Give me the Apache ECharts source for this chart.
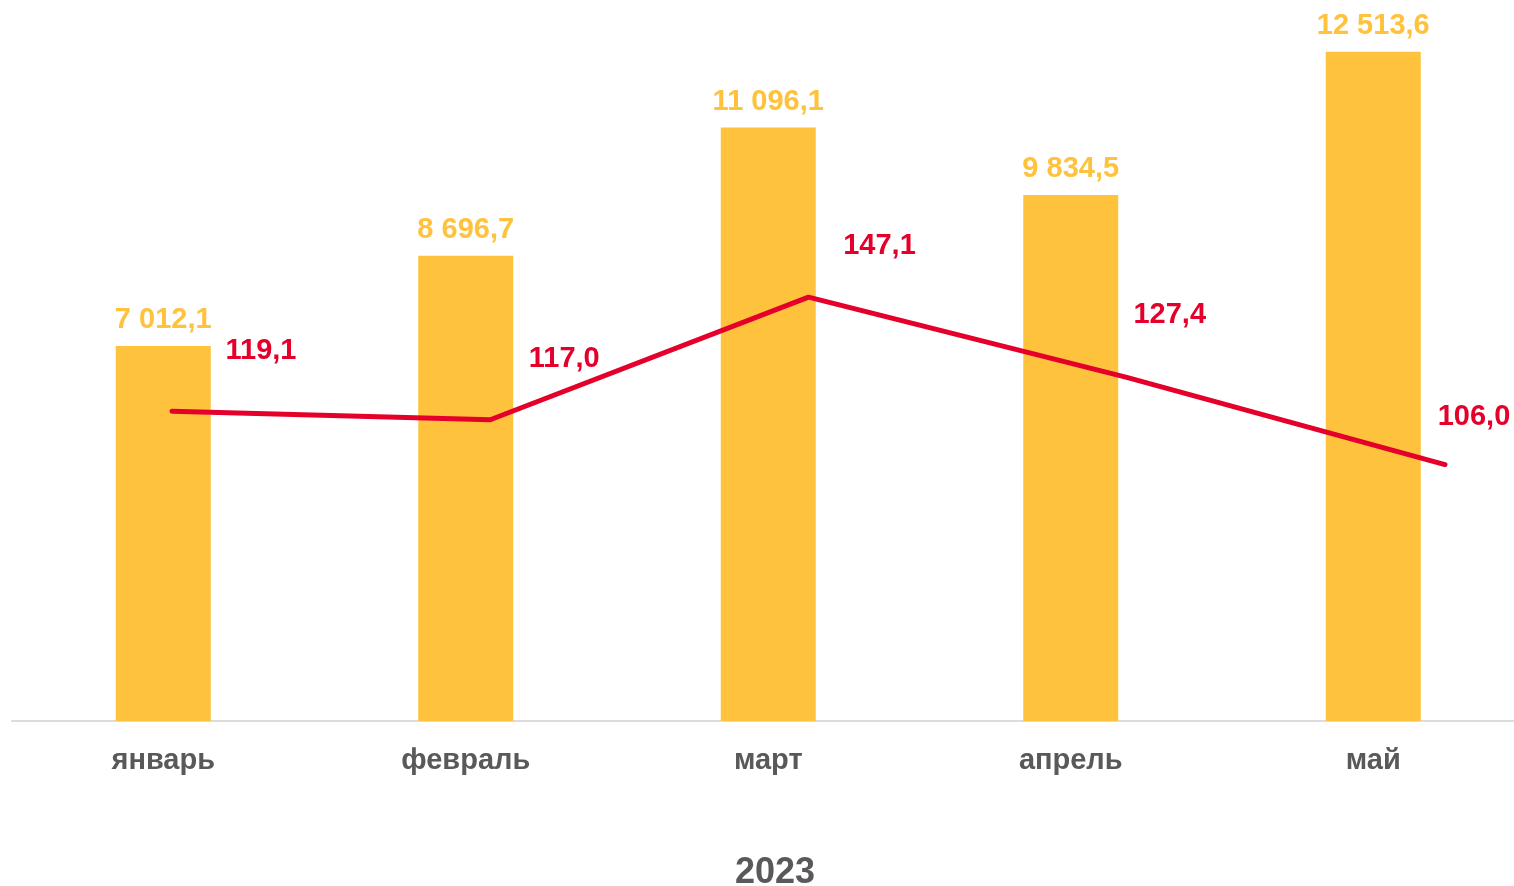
<!DOCTYPE html>
<html>
<head>
<meta charset="utf-8">
<script src="https://cdn.jsdelivr.net/npm/echarts@6/dist/echarts.min.js"></script>
<style>
  html, body { margin: 0; padding: 0; background: #fff; }
  #chart { width: 1514px; height: 886px; }
</style>
</head>
<body>
<div id="chart"></div>
<script>
// данные
const months = ["январь", "февраль", "март", "апрель", "май"];
const volume = [7012.1, 8696.7, 11096.1, 9834.5, 12513.6];
const index = [119.1, 117.0, 147.1, 127.4, 106.0];
const yearLabel = "2023";

// подписи линии сдвинуты как в оригинале
const lineLabelOffsets = [[89, -60], [74, -61], [71, -51], [43, -62], [29, -48]];

const FONT = "Arial, 'Liberation Sans', sans-serif";
const YELLOW = "#FFC23C";
const RED = "#E4002B";

function fmt(v) {
  let parts = v.toFixed(1).split(".");
  let int = parts[0].replace(/\B(?=(\d{3})+(?!\d))/g, " ");
  return int + "," + parts[1];
}

let chart = echarts.init(document.getElementById("chart"));

let option = {
  animation: false,
  backgroundColor: "#fff",
  grid: [
    { left: 12, width: 1512.5, top: 0, height: 721, outerBoundsMode: "none" },
    { left: 172, right: 69, top: 0, height: 721, outerBoundsMode: "none" }
  ],
  xAxis: [
    {
      type: "category",
      gridIndex: 0,
      data: months,
      axisLine: { lineStyle: { color: "#dcdcdc", width: 2 } },
      axisTick: { show: false },
      axisLabel: {
        margin: 25,
        color: "#595959",
        fontFamily: FONT,
        fontWeight: "bold",
        fontSize: 29
      }
    },
    {
      type: "category",
      gridIndex: 1,
      data: months,
      boundaryGap: false,
      show: false
    }
  ],
  yAxis: [
    { type: "value", gridIndex: 0, min: 0, max: 13479, show: false },
    { type: "value", gridIndex: 1, min: 43.07, max: 220, show: false }
  ],
  graphic: [
    {
      type: "text",
      left: 735,
      top: 855,
      style: {
        text: yearLabel,
        fill: "#595959",
        font: "bold 36px " + FONT
      }
    }
  ],
  series: [
    {
      type: "bar",
      xAxisIndex: 0,
      yAxisIndex: 0,
      data: volume,
      barWidth: 95,
      itemStyle: { color: YELLOW },
      label: {
        show: true,
        position: "top",
        distance: 11,
        color: YELLOW,
        fontFamily: FONT,
        fontWeight: "bold",
        fontSize: 29,
        formatter: (p) => fmt(p.value)
      }
    },
    {
      type: "line",
      xAxisIndex: 1,
      yAxisIndex: 1,
      data: index.map((v, i) => ({
        value: v,
        label: { offset: lineLabelOffsets[i] }
      })),
      symbol: "circle",
      symbolSize: 1,
      itemStyle: { color: RED },
      lineStyle: { color: RED, width: 5, cap: "round" },
      label: {
        show: true,
        position: "inside",
        color: RED,
        fontFamily: FONT,
        fontWeight: "bold",
        fontSize: 29,
        formatter: (p) => fmt(p.value)
      },
      z: 5
    }
  ]
};

chart.setOption(option);
</script>
</body>
</html>
